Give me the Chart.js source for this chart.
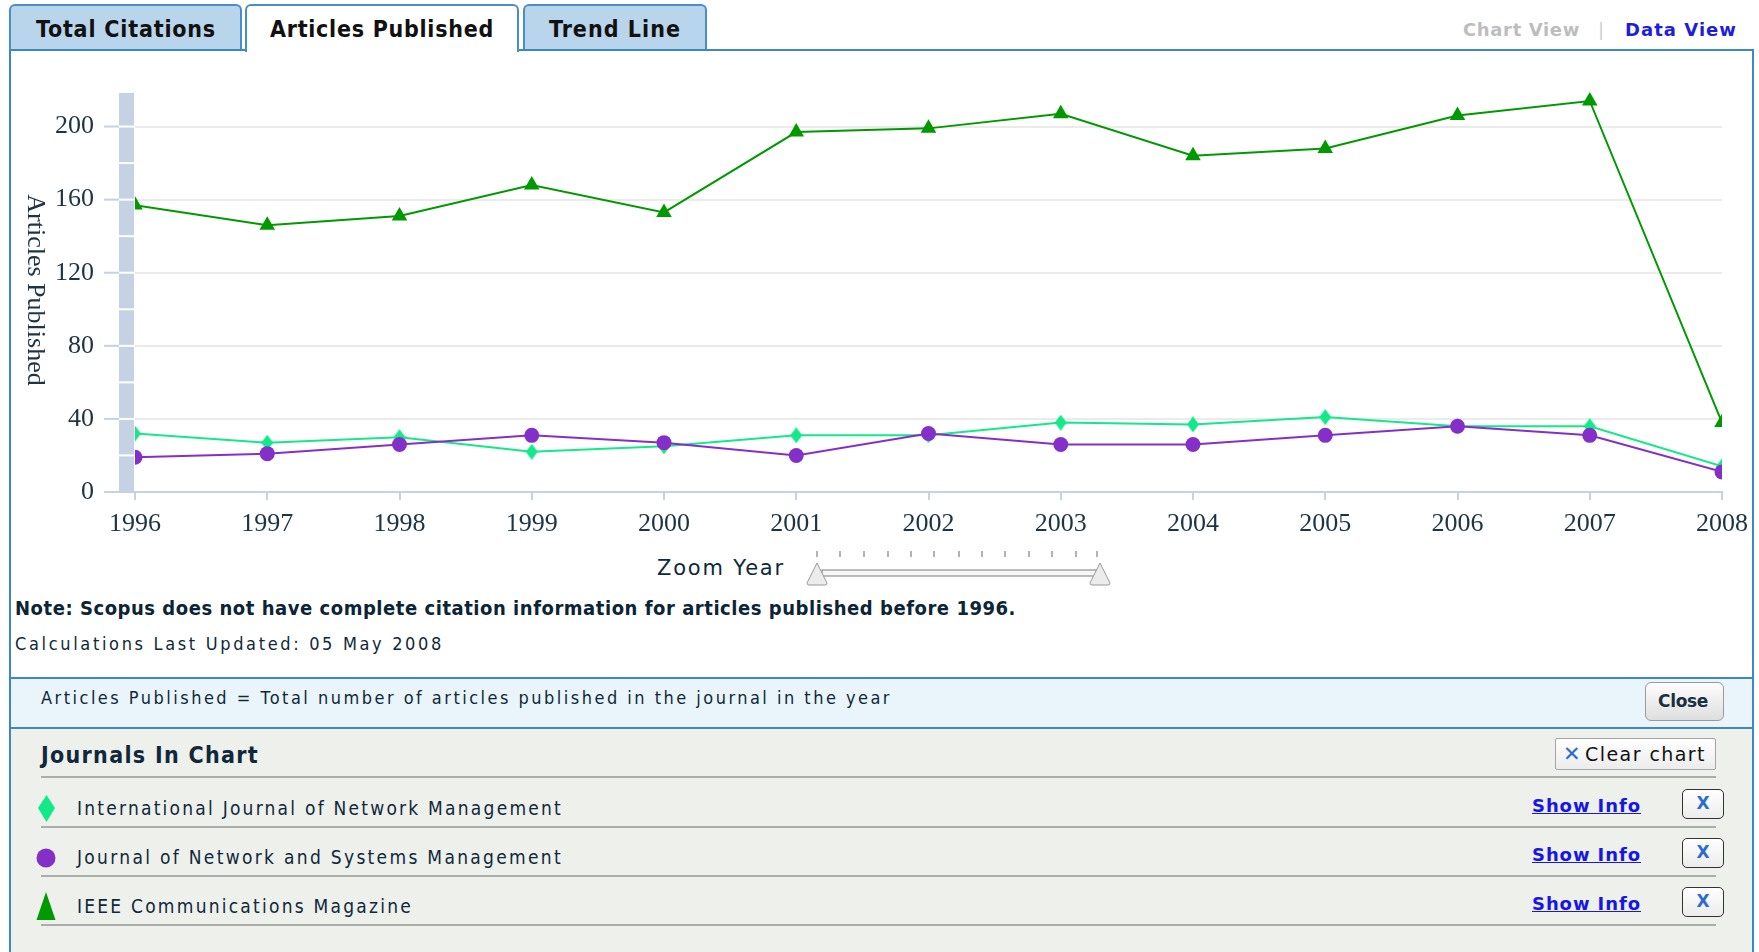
<!DOCTYPE html>
<html>
<head>
<meta charset="utf-8">
<script src="https://cdn.jsdelivr.net/npm/chart.js@4.4.1/dist/chart.umd.min.js"></script>
<style>
  body { margin: 0; width: 1759px; height: 952px; overflow: hidden; background: #fff; position: relative;
         font-family: "DejaVu Sans Condensed", "DejaVu Sans", sans-serif; color: #10283a; }
  .t { position: absolute; white-space: nowrap; height: 30px; line-height: 30px; }
  .v { font-family: "DejaVu Sans", sans-serif; }
  .b { font-weight: bold; }
  .tab { position: absolute; top: 4px; height: 44px; background: #b9d5ec; border: 2px solid #4a8ec8;
         border-bottom: none; border-radius: 6px 6px 0 0; }
  .tab.on { background: #fff; height: 46px; z-index: 2; }
  .tab span { position: absolute; top: 8px; font-weight: bold; font-size: 23px; color: #111; white-space: nowrap; line-height: 30px; }
  #panel { position: absolute; left: 9px; top: 49px; width: 1741px; height: 920px; border: 2px solid #3b87c8; }
  #info { position: absolute; left: 11px; top: 677px; width: 1741px; height: 48px; background: #e9f5fb;
          border-top: 2px solid #3b87c8; border-bottom: 2px solid #3b87c8; }
  #lower { position: absolute; left: 11px; top: 729px; width: 1741px; height: 240px; background: #eef0ec; }
  .sep { position: absolute; left: 41px; width: 1675px; height: 2px; background: #abadaa; }
  .btn { position: absolute; border: 1px solid #9a9a9a; border-radius: 6px;
         background: linear-gradient(#fdfdfd, #dedede); }
  .xb { position: absolute; left: 1682px; width: 40px; height: 28px; border: 1.5px solid #333; border-radius: 5px;
        background: linear-gradient(#ffffff, #ececec); color: #2a6ccf; font: bold 17px "DejaVu Sans", sans-serif;
        text-align: center; line-height: 26px; }
  .show { color: #1616e6; text-decoration: underline; font-weight: bold; font-size: 18px; }
  #chart { position: absolute; left: 0; top: 52px; z-index: 3; }
</style>
</head>
<body>

<div class="tab" style="left:9px;width:229px;"><span data-w="180" style="left:25px;">Total Citations</span></div>
<div class="tab on" style="left:245px;width:270px;"><span data-w="224" style="left:23px;">Articles Published</span></div>
<div class="tab" style="left:523px;width:180px;"><span data-w="132" style="left:24px;">Trend Line</span></div>

<div class="t v b" data-w="117" style="left:1463px;top:15px;font-size:18px;color:#bdbdbd;">Chart View</div>
<div class="t v" style="left:1598px;top:15px;font-size:18px;color:#cfcfcf;">|</div>
<div class="t v b" data-w="112" style="left:1625px;top:15px;font-size:18px;color:#1d1de0;">Data View</div>

<div id="panel"></div>
<div id="info"></div>
<div id="lower"></div>

<canvas id="chart" width="1759" height="508"></canvas>

<div class="t v" data-w="128" style="left:657px;top:553px;font-size:21px;">Zoom Year</div>
<svg style="position:absolute;left:800px;top:545px;" width="320" height="45">
  <g stroke="#666" stroke-width="1">
    <line x1="17" y1="6" x2="17" y2="12"/><line x1="40" y1="6" x2="40" y2="12"/><line x1="64" y1="6" x2="64" y2="12"/>
    <line x1="88" y1="6" x2="88" y2="12"/><line x1="111" y1="6" x2="111" y2="12"/><line x1="134" y1="6" x2="134" y2="12"/>
    <line x1="159" y1="6" x2="159" y2="12"/><line x1="182" y1="6" x2="182" y2="12"/><line x1="205" y1="6" x2="205" y2="12"/>
    <line x1="229" y1="6" x2="229" y2="12"/><line x1="252" y1="6" x2="252" y2="12"/><line x1="276" y1="6" x2="276" y2="12"/>
    <line x1="297" y1="6" x2="297" y2="12"/>
  </g>
  <rect x="22" y="25" width="278" height="6" fill="#f6f6f6" stroke="#7a7a7a" stroke-width="1"/>
  <path d="M17 18 L27 38 Q27 40 25 40 L9 40 Q7 40 7 38 Z" fill="#ececec" stroke="#9a9a9a" stroke-width="1"/>
  <path d="M300 18 L310 38 Q310 40 308 40 L292 40 Q290 40 290 38 Z" fill="#ececec" stroke="#9a9a9a" stroke-width="1"/>
</svg>

<div class="t b" data-w="1001" style="left:15px;top:593px;font-size:20px;color:#0b2436;">Note: Scopus does not have complete citation information for articles published before 1996.</div>
<div class="t" data-w="429" style="left:15px;top:629px;font-size:18px;">Calculations Last Updated: 05 May 2008</div>

<div class="t" data-w="851" style="left:41px;top:683px;font-size:18px;">Articles Published = Total number of articles published in the journal in the year</div>
<div class="btn" style="left:1645px;top:682px;width:77px;height:37px;">
  <div class="t v b" data-w="50" style="left:12px;top:3px;font-size:17px;color:#1a3040;">Close</div>
</div>

<div class="t b" data-w="218" style="left:41px;top:740px;font-size:23px;">Journals In Chart</div>
<div class="btn" style="left:1555px;top:738px;width:159px;height:30px;border-radius:2px;border-color:#a5a5a5;background:linear-gradient(#ffffff,#ececec);">
  <div class="t v b" style="left:7px;top:0px;font-size:21px;color:#2a6ccf;">✕</div>
  <div class="t v" data-w="121" style="left:29px;top:0px;font-size:19px;color:#111;">Clear chart</div>
</div>
<div class="sep" style="top:776px;"></div>
<div class="sep" style="top:826px;"></div>
<div class="sep" style="top:875px;"></div>
<div class="sep" style="top:924px;"></div>

<svg style="position:absolute;left:30px;top:790px;" width="34" height="135">
  <path d="M16.5 5 L25 18 L16.5 32 L8 18 Z" fill="#14e98a"/>
  <circle cx="16" cy="68" r="9.5" fill="#852fc9"/>
  <path d="M16 102 L25.5 130 L6.5 130 Z" fill="#009a00"/>
</svg>

<div class="t" id="j0" data-w="486" style="left:77px;top:793px;font-size:19px;"></div>
<div class="t" id="j1" data-w="486" style="left:77px;top:842px;font-size:19px;"></div>
<div class="t" id="j2" data-w="336" style="left:77px;top:891px;font-size:19px;"></div>

<div class="t v show" data-w="109" style="left:1532px;top:791px;">Show Info</div>
<div class="t v show" data-w="109" style="left:1532px;top:840px;">Show Info</div>
<div class="t v show" data-w="109" style="left:1532px;top:889px;">Show Info</div>
<div class="xb" style="top:789px;">X</div>
<div class="xb" style="top:838px;">X</div>
<div class="xb" style="top:887px;">X</div>

<script>
const years = ['1996', '1997', '1998', '1999', '2000', '2001', '2002', '2003', '2004', '2005', '2006', '2007', '2008'];
const journalNames = ['International Journal of Network Management', 'Journal of Network and Systems Management', 'IEEE Communications Magazine'];
const ijnmValues = [32, 27, 30, 22, 25, 31, 31, 38, 37, 41, 36, 36, 14];
const jnsmValues = [19, 21, 26, 31, 27, 20, 32, 26, 26, 31, 36, 31, 11];
const ieeeValues = [157, 146, 151, 168, 153, 197, 199, 207, 184, 188, 206, 214, 38];
const yTicks = [0, 40, 80, 120, 160, 200];
const yMax = 220;

const serif = '"Liberation Serif", "Times New Roman", serif';
const inkColor = '#1c3444';
const rulerColor = '#c4d2e4';

for (let i = 0; i !== journalNames.length; i++)
    document.getElementById('j' + i).textContent = journalNames[i];

// stretch texts to the widths
document.querySelectorAll('[data-w]').forEach(el => {
    el.style.letterSpacing = '0px';
    const w = el.getBoundingClientRect().width;
    const n = el.textContent.length;
    el.style.letterSpacing = ((Number(el.dataset.w) - w) / n) + 'px';
});

function diamond(w, h, color) {
    const c = document.createElement('canvas');
    c.width = w;
    c.height = h;
    const g = c.getContext('2d');
    g.fillStyle = color;
    g.beginPath();
    g.moveTo(w / 2, 0);
    g.lineTo(w, h / 2);
    g.lineTo(w / 2, h);
    g.lineTo(0, h / 2);
    g.closePath();
    g.fill();
    return c;
}

// grey ruler on the left of the plot, tick stubs and the rotated axis title
const rulerPlugin = {
    id: 'ruler',
    beforeDatasetsDraw(chart) {
        const { ctx, chartArea } = chart;
        const y = chart.scales.y;
        const y0 = y.getPixelForValue(0);
        const bx = chartArea.left - 16;
        ctx.save();
        ctx.fillStyle = rulerColor;
        ctx.fillRect(bx, chartArea.top + 3, 15, y0 - chartArea.top - 3);
        ctx.fillStyle = '#fff';
        for (let v = 20; v < yMax; v += 20)
            ctx.fillRect(bx, y.getPixelForValue(v) - 1, 15, 2);
        ctx.strokeStyle = rulerColor;
        ctx.lineWidth = 2;
        for (const v of yTicks) {
            const p = y.getPixelForValue(v);
            ctx.beginPath();
            ctx.moveTo(bx - 15, p);
            ctx.lineTo(bx, p);
            ctx.stroke();
        }
        ctx.beginPath();
        ctx.moveTo(bx - 15, y0);
        ctx.lineTo(chartArea.left, y0);
        ctx.stroke();

        ctx.translate(35, (chartArea.top + y0) / 2 - 1);
        ctx.rotate(Math.PI / 2);
        ctx.font = '26px ' + serif;
        ctx.fillStyle = inkColor;
        ctx.textAlign = 'center';
        ctx.textBaseline = 'middle';
        ctx.fillText('Articles Published', 0, 0);
        ctx.restore();
    }
};

const chartData = {
    labels: years,
    datasets: [{
        label: journalNames[0],
        data: ijnmValues,
        borderColor: '#14e98a',
        backgroundColor: '#14e98a',
        borderWidth: 2,
        pointStyle: diamond(12, 16, '#14e98a'),
        order: 3
    },
    {
        label: journalNames[1],
        data: jnsmValues,
        borderColor: '#852fc9',
        backgroundColor: '#852fc9',
        borderWidth: 2,
        pointStyle: 'circle',
        pointRadius: 7.5,
        pointBorderWidth: 0,
        order: 2
    },
    {
        label: journalNames[2],
        data: ieeeValues,
        borderColor: '#009a00',
        backgroundColor: '#009a00',
        borderWidth: 2,
        pointStyle: 'triangle',
        pointRadius: 9,
        pointBorderWidth: 0,
        order: 1
    }]
};

const config = {
    type: 'line',
    data: chartData,
    options: {
        responsive: false,
        animation: false,
        events: [],
        clip: { left: 0, top: 30, right: 0, bottom: 0 },
        elements: { line: { tension: 0 } },
        layout: { padding: { left: 0, right: 37, top: 38, bottom: 18 } },
        plugins: {
            legend: { display: false },
            tooltip: { enabled: false }
        },
        scales: {
            x: {
                offset: false,
                grid: { drawOnChartArea: false, color: rulerColor, lineWidth: 2, tickLength: 8 },
                border: { color: rulerColor, width: 2 },
                ticks: { font: { family: serif, size: 26 }, color: inkColor, padding: 9, maxRotation: 0, autoSkip: false },
                afterFit: s => { s.height = 50; }
            },
            y: {
                min: 0,
                max: yMax,
                afterBuildTicks: s => { s.ticks = yTicks.map(v => ({ value: v })); },
                grid: { drawTicks: false, lineWidth: 2, color: c => c.tick.value === 0 ? 'rgba(0,0,0,0)' : '#ebebeb' },
                border: { display: false },
                ticks: { font: { family: serif, size: 26 }, color: inkColor, padding: 41 },
                afterFit: s => { s.width = 135; s.paddingTop = 0; s.paddingBottom = 0; }
            }
        }
    },
    plugins: [rulerPlugin]
};

new Chart(document.getElementById('chart'), config);
</script>
</body>
</html>
